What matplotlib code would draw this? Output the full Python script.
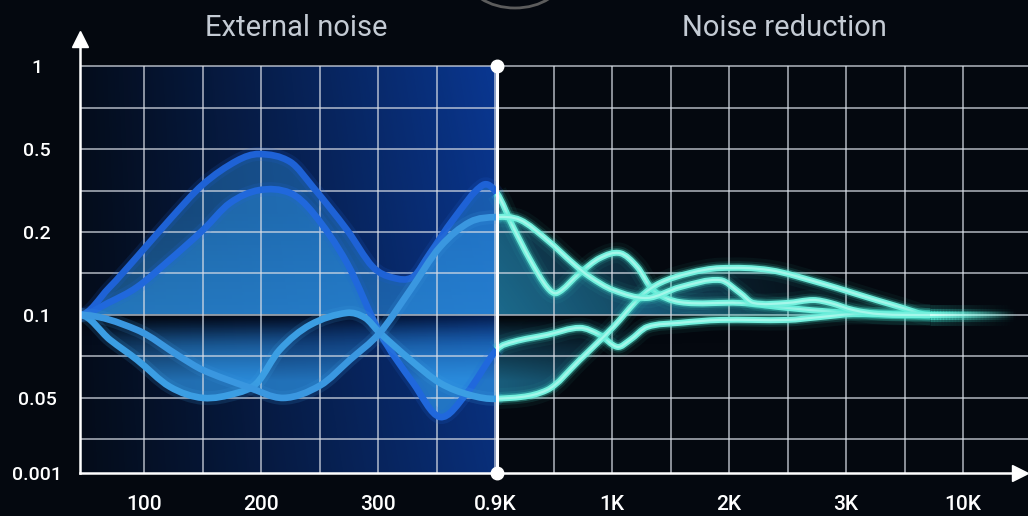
import numpy as np
import matplotlib.pyplot as plt
from matplotlib.path import Path
from matplotlib.patches import PathPatch, Ellipse
from matplotlib.collections import LineCollection
from matplotlib.colors import to_rgb

plt.rcParams['font.family'] = ['Roboto', 'DejaVu Sans']

# axis positions are counted in grid steps (x: frequency cells, y: level cells)
x_ticks = [1, 3, 5, 7, 9, 11, 13, 15]
x_labels = ["100", "200", "300", "0.9K", "1K", "2K", "3K", "10K"]
y_ticks = [0.19, 2, 4, 6, 8, 10]
y_labels = ["0.001", "0.05", "0.1", "0.2", "0.5", "1"]
x_grid = list(range(1, 16))
y_grid = list(range(1, 11))

split_x = 7.03   # the 0.9K divider
base = 4.0       # the 0.1 level every curve settles to

# four noise curves
p1_x = [-0.09, 0.40, 0.88, 1.44, 2.01, 2.59, 2.97, 3.50, 3.89, 4.47, 4.91, 5.25, 5.60, 5.89, 6.28, 6.79,
        7.03, 7.31, 7.60, 7.89, 8.06, 8.45, 8.79, 9.14, 9.43, 9.70, 10.16, 11.19, 11.99, 12.85, 13.41, 14.44]
p1_y = [4.00, 4.65, 5.40, 6.30, 7.15, 7.72, 7.88, 7.69, 7.08, 6.05, 5.16, 4.90, 4.92, 5.49, 6.29, 7.13,
        6.94, 6.12, 5.33, 4.67, 4.53, 5.01, 5.37, 5.49, 5.16, 4.60, 4.31, 4.29, 4.17, 4.07, 4.04, 4.00]

p2_x = [-0.09, 0.40, 0.88, 1.44, 2.01, 2.47, 2.97, 3.50, 3.89, 4.47, 5.03, 5.60, 6.06, 6.52,
        7.03, 7.31, 7.89, 8.45, 8.79, 9.09, 9.31, 9.60, 10.16, 10.85, 11.99, 12.56, 13.12, 14.44]
p2_y = [4.00, 4.30, 4.67, 5.33, 6.05, 6.70, 7.01, 6.94, 6.46, 5.25, 3.57, 2.36, 1.54, 2.12,
        3.16, 3.35, 3.52, 3.69, 3.52, 3.23, 3.40, 3.71, 3.81, 3.88, 3.88, 3.95, 4.02, 4.00]

c_x = [-0.09, 0.42, 0.88, 1.44, 2.01, 2.59, 2.93, 3.32, 3.84, 4.47, 4.78, 5.03, 5.55, 6.06, 6.57,
       7.03, 7.89, 8.45, 9.02, 9.48, 9.82, 10.33, 10.85, 11.70, 12.56, 13.12, 13.92, 14.44]
c_y = [4.00, 3.40, 2.92, 2.27, 2.00, 2.12, 2.36, 3.16, 3.76, 4.05, 3.93, 3.57, 2.92, 2.36, 2.07,
       1.98, 2.19, 2.92, 3.71, 4.43, 4.77, 5.01, 5.13, 5.08, 4.77, 4.53, 4.19, 4.00]

d_x = [-0.09, 0.88, 1.62, 2.01, 2.76, 3.38, 4.01, 4.52, 5.03, 5.55, 6.06, 6.57,
       7.03, 7.43, 7.89, 8.33, 8.62, 9.02, 9.60, 10.16, 10.85, 11.19, 11.41, 11.99, 12.44, 12.73, 13.12, 13.58, 14.44]
d_y = [4.00, 3.64, 2.99, 2.67, 2.27, 2.00, 2.30, 2.92, 3.57, 4.60, 5.64, 6.24,
       6.36, 6.29, 5.81, 5.25, 4.92, 4.60, 4.41, 4.67, 4.84, 4.53, 4.29, 4.29, 4.36, 4.29, 4.12, 4.02, 4.00]

curves = [(p1_x, p1_y, '#1e62d6'), (p2_x, p2_y, '#2068dc'), (c_x, c_y, '#3b9ee3'), (d_x, d_y, '#3a97e0')]

# glow layers for the cyan half: width, alpha, colour
glow = [(15, 0.05, '#3fe0cc'), (9.5, 0.12, '#3fe0cc'), (6.5, 0.3, '#4fe8d2'),
        (4.3, 1.0, '#72f0dd'), (1.6, 0.5, '#d8fff8')]


def smooth_path(xs, ys, start, stop, close=False):
    # cubic bezier pieces with slopes taken from the neighbouring points
    x = np.asarray(xs, float)
    y = np.asarray(ys, float)
    n = len(x)
    m = np.zeros(n)
    m[1:-1] = (y[2:] - y[:-2]) / (x[2:] - x[:-2])
    verts = [(x[start], y[start])]
    codes = [Path.MOVETO]
    for i in range(start, stop):
        h = (x[i + 1] - x[i]) / 3
        verts += [(x[i] + h, y[i] + m[i] * h), (x[i + 1] - h, y[i + 1] - m[i + 1] * h), (x[i + 1], y[i + 1])]
        codes += [Path.CURVE4] * 3
    if close:
        verts.append((x[start], y[start]))
        codes.append(Path.CLOSEPOLY)
    return Path(verts, codes)


bg = '#04080f'
fig = plt.figure(figsize=(10.28, 5.16), dpi=100, facecolor=bg)
ax = fig.add_axes([80 / 1028, 43 / 516, 948 / 1028, 443 / 516])
ax.set_facecolor(bg)
x0, x1 = -0.094, 16.11
y0, y1 = 0.193, 10.87

# blue panel behind the external-noise half
U, V = np.meshgrid(np.linspace(0, 1, 256), np.linspace(0, 1, 64))
panel = np.zeros((64, 256, 4))
panel[..., 0], panel[..., 1], panel[..., 2] = 0.04, 0.23, 0.60
panel[..., 3] = (0.10 + 0.85 * U ** 1.1) * (0.82 + 0.18 * V)
ax.imshow(panel, extent=[x0, split_x, y0, 10], origin='lower', aspect='auto',
          interpolation='bilinear', zorder=0.5)

# gradient fill between each curve and the 0.1 level
gu = np.linspace(x0, 14.5, 400)
gv = np.linspace(1.2, 8.3, 300)
GU, GV = np.meshgrid(gu, gv)
left = GU < split_x
grad = np.zeros(GU.shape + (4,))
grad[..., :3] = np.where(left[..., None], [0.18, 0.58, 0.90], [0.15, 0.58, 0.76])
alpha = np.where(GV >= base, 0.42 + 0.12 * np.clip(1 - (GV - base) / 2.5, 0, 1),
                 0.72 * np.clip((base - GV) / 1.6, 0, 1) ** 1.1)
fade = np.where(left, 1.0, 0.85 * np.clip(1 - (GU - split_x) / 7.0, 0, 1) ** 1.2)
grad[..., 3] = alpha * fade
for xs, ys, col in curves:
    clip = PathPatch(smooth_path(xs, ys, 0, len(xs) - 1, close=True), transform=ax.transData,
                     fc='none', ec='none')
    ax.add_patch(clip)
    im = ax.imshow(grad, extent=[x0, 14.5, 1.2, 8.3], origin='lower', aspect='auto',
                   interpolation='bilinear', zorder=1)
    im.set_clip_path(clip)

# dark band just under the 0.1 level
sh = np.zeros((64, 200, 4))
SU, SV = np.meshgrid(np.linspace(0, 1, 200), np.linspace(0, 1, 64))
sh[..., 3] = 0.65 * SV ** 2 * np.clip(1.3 - SU, 0, 1)
ax.imshow(sh, extent=[x0, 11, 3.2, base], origin='lower', aspect='auto',
          interpolation='bilinear', zorder=1.5)

# grid
ax.vlines(x_grid, y0, 10, color='#d8dde6', lw=1.2, alpha=0.75, zorder=2)
ax.hlines(y_grid, x0, x1, color='#d8dde6', lw=1.2, alpha=0.75, zorder=2)

# curves: blue before the divider, glowing cyan after it
for xs, ys, col in curves:
    k = int(np.argmin(np.abs(np.array(xs) - split_x)))
    lp = smooth_path(xs, ys, 0, k)
    rp = smooth_path(xs, ys, k, len(xs) - 1)
    for lw, a in [(10, 0.15), (4.8, 1.0)]:
        ax.add_patch(PathPatch(lp, fc='none', ec=col, lw=lw, alpha=a,
                               capstyle='round', joinstyle='round', zorder=3))
    for lw, a, c in glow:
        ax.add_patch(PathPatch(rp, fc='none', ec=c, lw=lw, alpha=a,
                               capstyle='butt', joinstyle='round', zorder=3.5))

# fading tail after the curves meet, same glow layers stacked four deep
tail_x = np.linspace(14.44, 15.95, 60)
segs = [[(tail_x[i], base), (tail_x[i + 1], base)] for i in range(len(tail_x) - 1)]
fa = np.linspace(1.0, 0.0, len(segs)) ** 1.3
for lw, a, c in glow:
    stacked = 1 - (1 - a) ** len(curves)
    rgb = to_rgb(c)
    ax.add_collection(LineCollection(segs, colors=[rgb + (stacked * f,) for f in fa],
                                     linewidths=lw, capstyle='butt', zorder=3.5))

# axes with arrows, divider with dots
ax.plot([x0, x0], [y0, 10.5], color='white', lw=1.8, clip_on=False, zorder=6)
ax.plot([x0], [10.66], marker='^', ms=12, color='white', clip_on=False, zorder=6)
ax.plot([x0, 15.86], [y0, y0], color='white', lw=1.8, clip_on=False, zorder=6)
ax.plot([15.97], [y0], marker='>', ms=11, color='white', clip_on=False, zorder=6)
ax.plot([split_x, split_x], [y0, 10], color='white', lw=2.2, zorder=6)
ax.plot([split_x, split_x], [y0, 10], 'o', ms=9, color='white', zorder=7, clip_on=False)

ax.set_xlim(x0, x1)
ax.set_ylim(y0, y1)
for s in ax.spines.values():
    s.set_visible(False)
ax.set_xticks(x_ticks, x_labels)
ax.set_yticks(y_ticks, y_labels)
ax.tick_params(length=0, colors='white')
ax.tick_params(axis='x', pad=16, labelsize=15)
ax.tick_params(axis='y', pad=31, labelsize=14)
plt.setp(ax.get_yticklabels(), ha='center', fontweight='medium')
plt.setp(ax.get_xticklabels(), fontweight='medium')

fig.text(296 / 1028, 1 - 28 / 516, 'External noise', ha='center', va='center',
         fontsize=21, color='#c4cbd4')
fig.text(784 / 1028, 1 - 28 / 516, 'Noise reduction', ha='center', va='center',
         fontsize=21, color='#c4cbd4')
fig.add_artist(Ellipse((515 / 1028, 1 + 24 / 516), 96 / 1028, 64 / 516, transform=fig.transFigure,
                       fill=False, ec='#5c5c5c', lw=2))

fig.savefig('out.png', dpi=100, facecolor=bg)
